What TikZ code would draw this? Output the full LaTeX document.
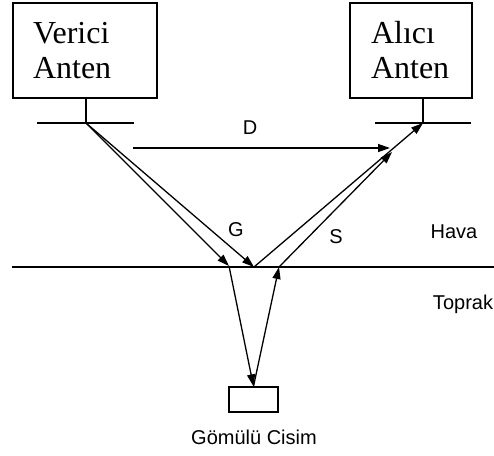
\documentclass[tikz,border=0pt]{standalone}
\usepackage{fontspec}
\setmainfont{Liberation Serif}
\newfontfamily\etiketfont{Liberation Sans}
\usetikzlibrary{arrows.meta}
\begin{document}
\begin{tikzpicture}[
    x=1pt, y=-1pt,  % piksel koordinatları
    line width=1.3pt,
    % Anten kutuları
    antenkutu/.style={draw, align=left, minimum height=95pt, inner ysep=0pt,
        font=\fontsize{32}{35}\selectfont},
    etiket/.style={font=\etiketfont\fontsize{20}{24}\selectfont, inner sep=0pt},
    dalga/.style={-{Triangle[length=12pt,width=8pt]}}
]
\useasboundingbox (0,0) rectangle (494,455);
% Antenler
\node[antenkutu, text width=104pt, inner xsep=20pt] (verici) at (85,50.5) {Verici\\Anten};
\node[antenkutu, text width=80pt, inner xsep=21pt] (alici) at (411,50.5) {Alıcı\\Anten};
\coordinate (vAyak) at (86,123);
\coordinate (aAyak) at (423,123);
\draw (vAyak |- verici.south) -- (vAyak);
\draw (aAyak |- alici.south) -- (aAyak);
\draw (37,123) -- (134,123);
\draw (375,123) -- (471,123);
% Yer yüzeyi
\coordinate (yerSol) at (12,267);
\coordinate (yerSag) at (494,267);
\draw (yerSol) -- (yerSag);
% Gömülü cisim
\node[draw, minimum width=49pt, minimum height=25pt, inner sep=0pt] (cisim) at (253.5,399.5) {};
% Yollar
\coordinate (dBas) at (133,148);
\coordinate (dSon) at (390,148);
\coordinate (g1) at (229,266);
\coordinate (g2) at (254,267);
\coordinate (s1) at (279,267);
\coordinate (s1Son) at (392,152);
\draw[dalga] (dBas) -- (dSon);
\draw[dalga] (vAyak) -- (g1);
\draw[dalga] (vAyak) -- (g2);
\draw[dalga] (g2) -- (aAyak);
\draw[dalga] (s1) -- (s1Son);
\draw[dalga] (g1) -- (cisim.north);
\draw[dalga] (cisim.north) -- (s1);
% Etiketler
\node[etiket] (dEtiket) at (250,128) {D};
\node[etiket] (gEtiket) at (236,230) {G};
\node[etiket] (sEtiket) at (336,237) {S};
\node[etiket] (hava) at (454,232) {Hava};
\node[etiket] (toprak) at (463,304) {Toprak};
\node[etiket] (cisimEtiket) at (254,437) {Gömülü Cisim};
\end{tikzpicture}
\end{document}
